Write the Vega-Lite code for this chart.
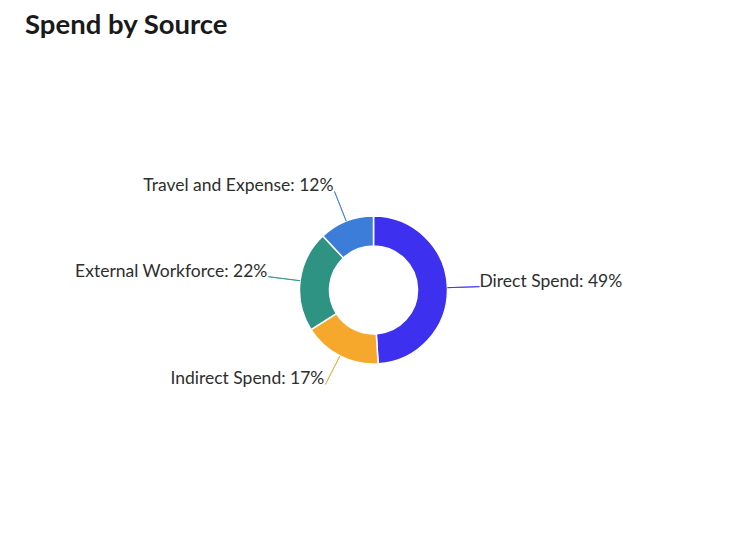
{
  "$schema": "https://vega.github.io/schema/vega-lite/v6.json",
  "width": 747,
  "height": 536,
  "autosize": {"type": "fit", "contains": "padding"},
  "padding": {"top": 11, "left": 0, "right": 0, "bottom": 0},
  "background": "white",
  "config": {"view": {"stroke": null}},
  "title": {
    "text": "Spend by Source",
    "anchor": "start",
    "dx": 25,
    "font": "Lato",
    "fontSize": 27.5,
    "fontWeight": "bold",
    "color": "#1a1a1a",
    "offset": 5
  },
  "data": {
    "values": [
      {"source": "Direct Spend", "share": 49, "label": "Direct Spend: 49%"},
      {"source": "Indirect Spend", "share": 17, "label": "Indirect Spend: 17%"},
      {"source": "External Workforce", "share": 22, "label": "External Workforce: 22%"},
      {"source": "Travel and Expense", "share": 12, "label": "Travel and Expense: 12%"}
    ]
  },
  "transform": [{"window": [{"op": "row_number", "as": "idx"}]}],
  "encoding": {
    "theta": {"field": "share", "type": "quantitative", "stack": true},
    "order": {"field": "idx", "type": "quantitative", "sort": "ascending"}
  },
  "layer": [
    {
      "mark": {"type": "arc", "radius": 74, "radius2": 44, "stroke": "white", "strokeWidth": 1.5},
      "encoding": {
        "color": {
          "field": "source",
          "type": "nominal",
          "scale": {
            "domain": ["Direct Spend", "Indirect Spend", "External Workforce", "Travel and Expense"],
            "range": ["#3D30EE", "#F5A82C", "#2E9383", "#3B7DD8"]
          },
          "legend": null
        }
      }
    },
    {
      "mark": {"type": "arc", "radius": 106, "radius2": 74, "padAngle": 3.1416, "filled": false, "strokeWidth": 1, "opacity": 0.8},
      "encoding": {
        "color": {
          "field": "source",
          "type": "nominal",
          "scale": {
            "domain": ["Direct Spend", "Indirect Spend", "External Workforce", "Travel and Expense"],
            "range": ["#3D30EE", "#F5A82C", "#2E9383", "#3B7DD8"]
          },
          "legend": null
        }
      }
    },
    {
      "mark": {"type": "text", "radius": 106, "align": "left", "baseline": "alphabetic", "dx": 0, "font": "Lato", "fontSize": 17.5, "fill": "#2e2e2e"},
      "encoding": {
        "detail": {"field": "source", "type": "nominal"},
        "text": {"condition": {"test": "datum.source === 'Direct Spend'", "field": "label"}, "value": ""}
      }
    },
    {
      "mark": {"type": "text", "radius": 106, "align": "right", "baseline": "alphabetic", "dx": -1, "font": "Lato", "fontSize": 17.5, "fill": "#2e2e2e"},
      "encoding": {
        "detail": {"field": "source", "type": "nominal"},
        "text": {"condition": {"test": "datum.source !== 'Direct Spend'", "field": "label"}, "value": ""}
      }
    }
  ]
}
